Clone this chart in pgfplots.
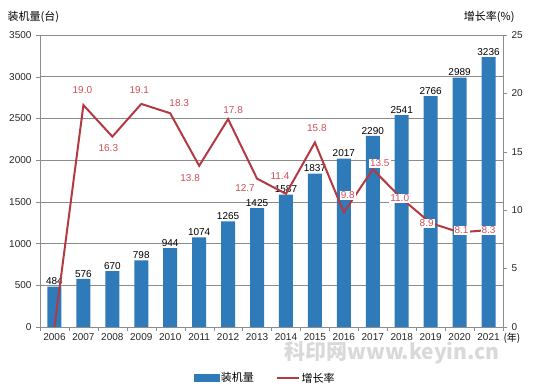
\documentclass[border=0pt]{standalone}
\usepackage{pgfplots}
\pgfplotsset{compat=1.18}
\usepackage{pgfplotstable}
\usepackage{fontspec}
\setmainfont{Liberation Sans}
\newfontfamily\cjk{Noto Sans CJK SC}
\definecolor{barblue}{RGB}{47,122,184}
\definecolor{linered}{RGB}{178,58,66}
\definecolor{labred}{RGB}{205,80,90}
\definecolor{gridgray}{RGB}{140,140,140}

\pgfplotstableread{
x y
0 484
1 576
2 670
3 798
4 944
5 1074
6 1265
7 1425
8 1587
9 1837
10 2017
11 2290
12 2541
13 2766
14 2989
15 3236
}\bars

\pgfplotstableread{
x y
0 0
1 19.0
2 16.3
3 19.1
4 18.3
5 13.8
6 17.8
7 12.7
8 11.4
9 15.8
10 9.8
11 13.5
12 11.0
13 8.9
14 8.1
15 8.3
}\growth

\pgfplotstableread{
x y lab dx dy
1 19.0 19.0 -1 15
2 16.3 16.3 -4 -11
3 19.1 19.1 -2 14
4 18.3 18.3 9 10
5 13.8 13.8 -9 -12
6 17.8 17.8 5 9
7 12.7 12.7 -12 -9
8 11.4 11.4 -6 18
9 15.8 15.8 2 14
10 9.8 9.8 4 17
11 13.5 13.5 7 6
12 11.0 11.0 -2 0
13 8.9 8.9 -4 0
14 8.1 8.1 2 2
15 8.3 8.3 0 0
}\glabels

\begin{document}
\begin{tikzpicture}
\path[use as bounding box] (0,0) rectangle (536pt,388pt);
\begin{axis}[
  at={(40pt,61pt)}, anchor=south west,
  scale only axis, width=463pt, height=292pt,
  xmin=-0.5, xmax=15.5, ymin=0, ymax=3500,
  ybar, bar width=14pt,
  ytick={0,500,...,3500},
  xtick={0,...,15},
  xticklabels={2006,2007,2008,2009,2010,2011,2012,2013,2014,2015,2016,2017,2018,2019,2020,2021},
  minor xtick={-0.5,0.5,...,15.5},
  major x tick style={draw=none},
  minor x tick style={draw=gridgray},
  ytick style={draw=gridgray},
  tick align=outside,
  major tick length=4pt, minor tick length=4pt,
  ymajorgrids, grid style={gridgray, line width=0.7pt},
  axis line style={gridgray, line width=0.7pt},
  axis y line*=left, axis x line*=bottom,
  /pgf/number format/assume math mode=true,
  /pgf/number format/1000 sep={},
  tick label style={font=\fontsize{10}{12}\selectfont, text=black!85},
  yticklabel style={xshift=-1pt},
  xticklabel style={yshift=1pt},
  nodes near coords,
  nodes near coords style={font=\fontsize{10}{12}\selectfont, text=black, anchor=south, inner sep=1.5pt},
]
\addplot[fill=barblue, draw=none] table {\bars};
\end{axis}
\begin{axis}[
  at={(40pt,61pt)}, anchor=south west,
  scale only axis, width=463pt, height=292pt,
  xmin=-0.5, xmax=15.5, ymin=0, ymax=25,
  ytick={0,5,...,25},
  axis y line*=right, axis x line=none,
  ytick style={draw=gridgray},
  tick align=outside, major tick length=4pt,
  axis line style={gridgray, line width=0.7pt},
  /pgf/number format/assume math mode=true,
  tick label style={font=\fontsize{10}{12}\selectfont, text=black!85},
  yticklabel style={xshift=1pt},
  legend style={at={(0.486,-0.175)}, anchor=center, draw=none, fill=none,
    font=\fontsize{11}{13}\selectfont\cjk, legend columns=2,
    /tikz/every even column/.append style={column sep=20pt}},
]
\addlegendimage{legend image code/.code={\fill[barblue] (0pt,-3.5pt) rectangle (25pt,3.5pt);}}
\addlegendentry{装机量}
\addplot[linered, line width=2pt, mark=none, legend image code/.code={\draw[linered,line width=1.6pt] (0pt,0pt) -- (22pt,0pt);}] table {\growth};
\addlegendentry{增长率}
\addplot[draw=none, mark=none, forget plot,
  point meta=explicit symbolic,
  visualization depends on={\thisrow{dx} \as \dx},
  visualization depends on={\thisrow{dy} \as \dy},
  nodes near coords,
  nodes near coords style={font=\fontsize{10}{12}\selectfont, text=labred, anchor=center,
    xshift=\dx pt, yshift=\dy pt, fill=white, inner sep=1pt},
] table[meta=lab] {\glabels};
\end{axis}
\node[anchor=west, font=\fontsize{11}{13}\selectfont\cjk] at (4pt,371pt) {装机量(台)};
\node[anchor=east, font=\fontsize{11}{13}\selectfont\cjk] at (518pt,371pt) {增长率(\%)};
\node[anchor=west, font=\fontsize{10}{12}\selectfont\cjk] at (500pt,50pt) {(年)};
\node[font=\bfseries\fontsize{21}{24}\selectfont\cjk, text=gray!30] at (392pt,35pt) {科印网www.keyin.cn};
\end{tikzpicture}
\end{document}
